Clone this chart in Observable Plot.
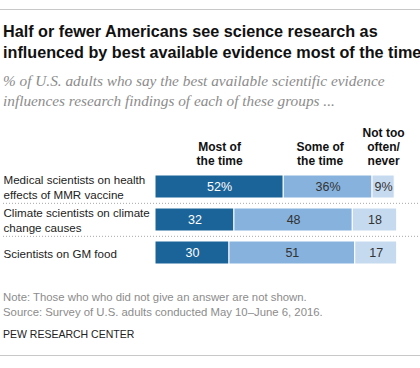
<!DOCTYPE html>
<html><head><meta charset="utf-8">
<script src="https://cdn.jsdelivr.net/npm/d3@7"></script>
<script src="https://cdn.jsdelivr.net/npm/@observablehq/plot@0.6"></script>
<style>
body{margin:0;background:#fff;width:420px;height:368px;position:relative;overflow:hidden;font-family:"Liberation Sans",Arial,sans-serif;}
.rule{position:absolute;left:0;width:420px;height:1px;background:#c8c8c8;}
#title{position:absolute;left:3px;top:21px;font-weight:bold;font-size:16.2px;line-height:21px;color:#111;white-space:nowrap;}
#subtitle{position:absolute;left:3px;top:71px;font-family:"Liberation Serif",serif;font-style:italic;font-size:15.3px;line-height:20px;color:#8c8c8c;white-space:nowrap}
#chart{position:absolute;left:0;top:118px;}
#note{position:absolute;left:3px;top:290px;font-size:11.35px;line-height:15px;color:#8c8c8c;white-space:nowrap}
#pew{position:absolute;left:3px;top:328px;font-size:10.5px;line-height:13px;color:#222;white-space:nowrap}
</style>
</head><body>
<div class="rule" style="top:9px"></div>
<div id="title">Half or fewer Americans see science research as<br>influenced by best available evidence most of the time</div>
<div id="subtitle">% of U.S. adults who say the best available scientific evidence<br>influences research findings of each of these groups ...</div>
<div id="chart"></div>
<div id="note">Note: Those who who did not give an answer are not shown.<br>Source: Survey of U.S. adults conducted May 10–June 6, 2016.</div>
<div id="pew">PEW RESEARCH CENTER</div>
<div class="rule" style="top:355px"></div>
<script>
const groups = [
  "Medical scientists on health\neffects of MMR vaccine",
  "Climate scientists on climate\nchange causes",
  "Scientists on GM food"
];
const responses = ["Most of the time", "Some of the time", "Not too often/never"];
const headerLabels = ["Most of\nthe time", "Some of\nthe time", "Not too\noften/\nnever"];
const mostOfTheTime = [52, 32, 30];
const someOfTheTime = [36, 48, 51];
const notTooOften = [9, 18, 17];
const colors = ["#1b6499", "#86b2dd", "#c6daef"];

const series = [mostOfTheTime, someOfTheTime, notTooOften];
const rows = [];
groups.forEach((g, gi) => {
  responses.forEach((r, ri) => {
    const v = series[ri][gi];
    rows.push({group: g, response: r, value: v, label: gi === 0 ? v + "%" : String(v), header: headerLabels[ri], gi, ri});
  });
});
const firstRow = rows.filter(d => d.gi === 0);

const font = "'Liberation Sans', Arial, sans-serif";
const headerOpts = {x: "value", y: "group", z: "response", lineAnchor: "bottom", dy: -22,
  fontWeight: "bold", fontSize: 12, lineHeight: 1.17, fill: "#111"};
const chart = Plot.plot({
  width: 420, height: 160,
  marginLeft: 3, marginRight: 0, marginTop: 0, marginBottom: 0,
  style: {fontFamily: font, fontSize: "12px", background: "transparent"},
  x: {domain: [0, 100], range: [155, 401.6], axis: null},
  y: {domain: groups, range: [52, 152], paddingInner: 0.3, paddingOuter: 0.15, axis: null},
  color: {domain: responses, range: colors},
  marks: [
    Plot.ruleY(groups.slice(1), {y: d => d, dy: -16.67, stroke: "#a8a8a8", strokeDasharray: "1,2", strokeWidth: 1}),
    Plot.barX(rows, {x: "value", y: "group", fill: "response", stroke: "white", strokeWidth: 1}),
    Plot.text(rows, Plot.stackX({x: "value", y: "group", z: "response",
      text: d => d.ri === 0 ? d.label : null, fill: "white", fontSize: 12.5})),
    Plot.text(rows, Plot.stackX({x: "value", y: "group", z: "response",
      text: d => d.ri !== 0 ? d.label : null, fill: "#333", fontSize: 12.5})),
    Plot.text(firstRow, Plot.stackX({...headerOpts, text: d => d.ri !== 1 ? d.header : null})),
    Plot.text(firstRow, Plot.stackX({...headerOpts, dx: -8, text: d => d.ri === 1 ? d.header : null})),
    Plot.text(groups, {y: d => d, text: d => d, frameAnchor: "left", textAnchor: "start",
      lineAnchor: "middle", fontSize: 11.6, lineHeight: 1.22, fill: "#222"})
  ]
});
document.getElementById("chart").appendChild(chart);
</script>
</body></html>
